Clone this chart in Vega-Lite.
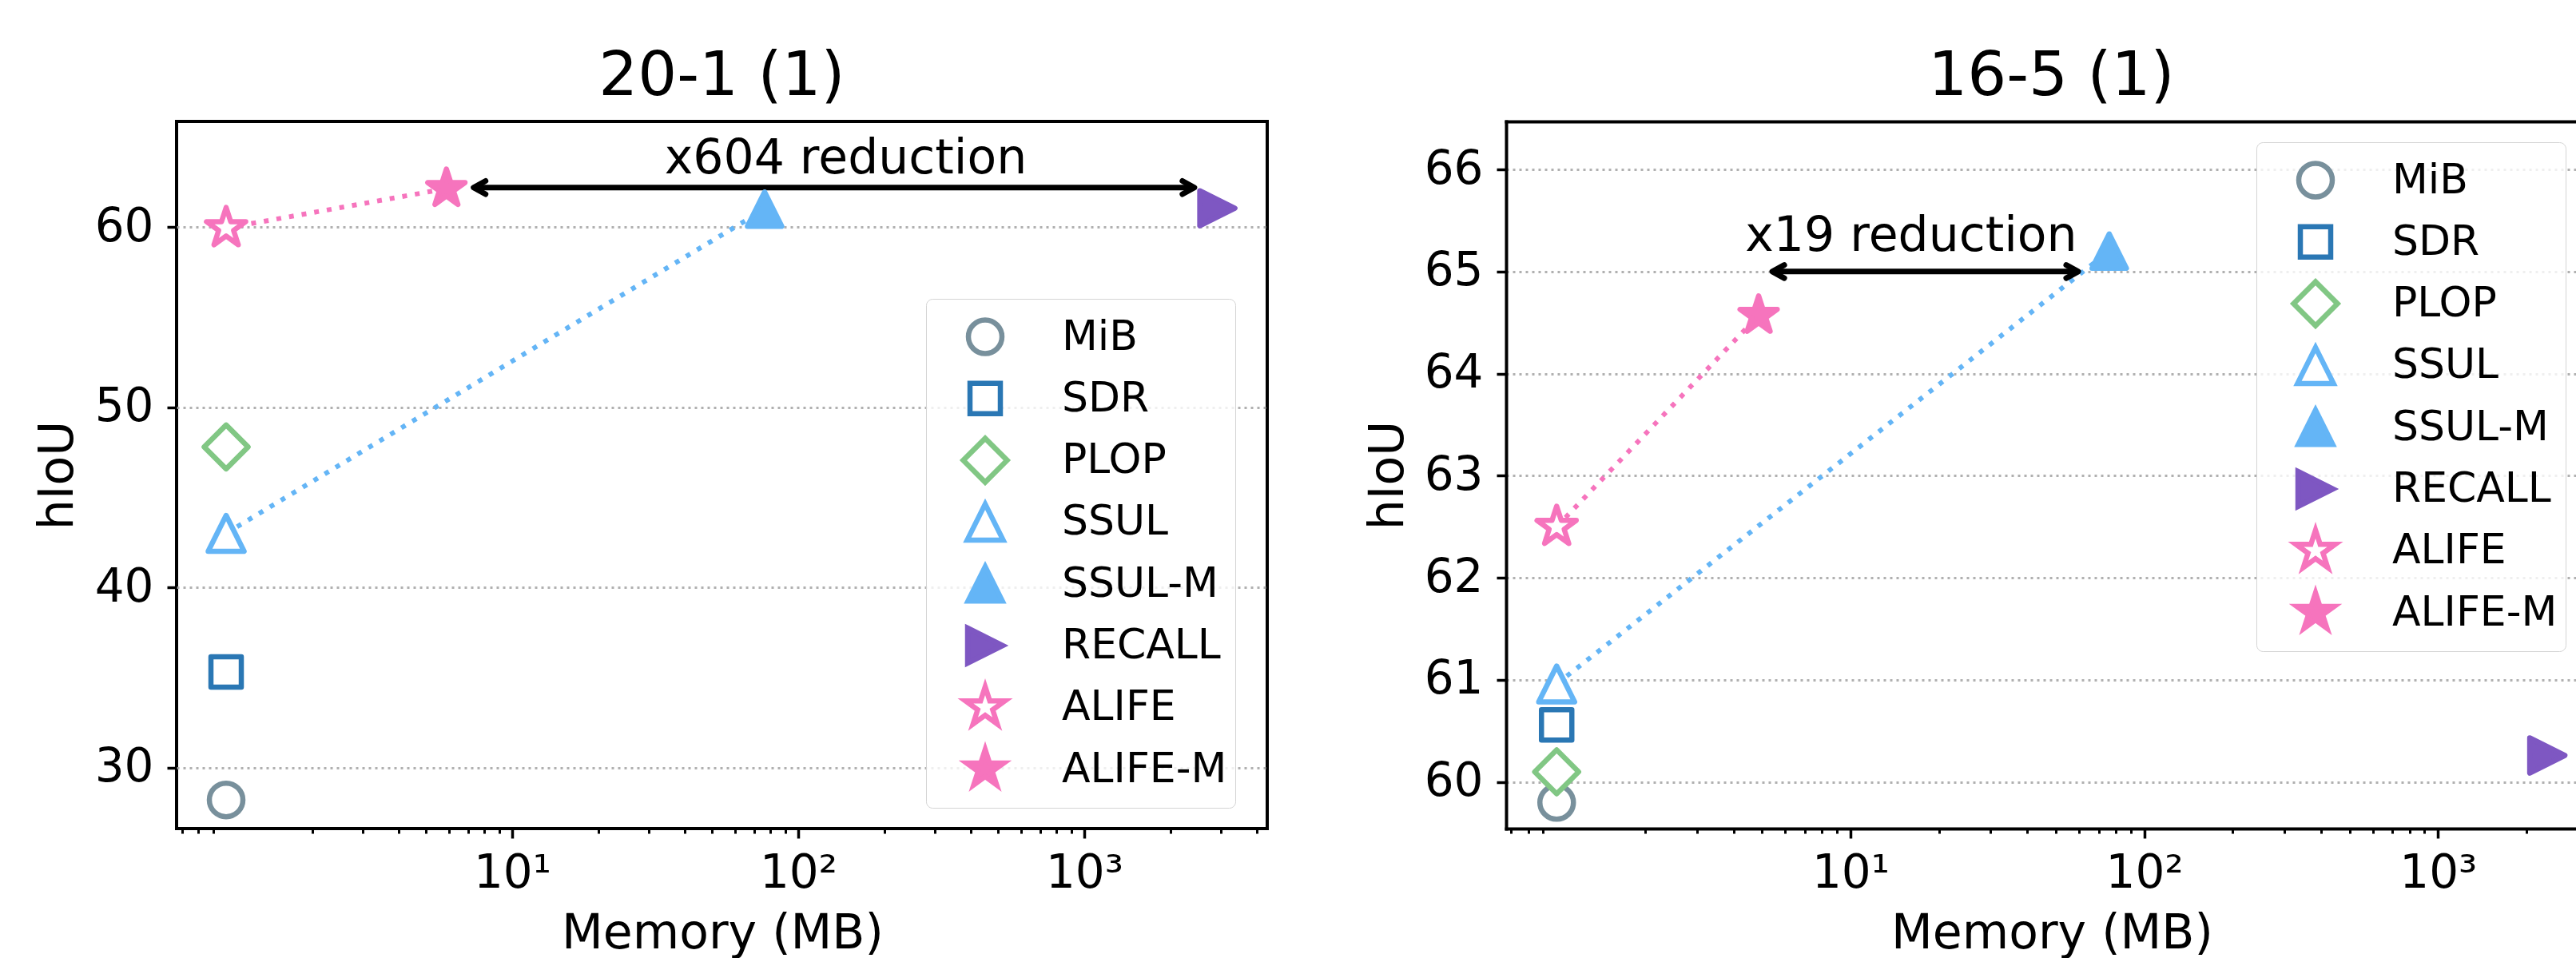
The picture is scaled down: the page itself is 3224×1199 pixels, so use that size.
{
  "$schema": "https://vega.github.io/schema/vega-lite/v6.json",
  "padding": {"left": 40, "top": 55, "right": 0, "bottom": 0},
  "background": "white",
  "config": {
    "font": "DejaVu Sans",
    "view": {"stroke": null},
    "axis": {"domainColor": "black", "domainWidth": 4, "tickColor": "black", "labelColor": "black", "titleColor": "black", "titleFontWeight": "normal", "labelFont": "DejaVu Sans", "titleFont": "DejaVu Sans", "minExtent": 0},
    "legend": {"labelLimit": 500},
    "title": {"font": "DejaVu Sans", "color": "black", "fontWeight": "normal"}
  },
  "datasets": {
    "pts1": [
      {"method": "MiB", "memory": 1.0, "hIoU": 28.2, "pair": "none"},
      {"method": "SDR", "memory": 1.0, "hIoU": 35.3, "pair": "none"},
      {"method": "PLOP", "memory": 1.0, "hIoU": 47.8, "pair": "none"},
      {"method": "SSUL", "memory": 1.0, "hIoU": 43.0, "pair": "SSUL"},
      {"method": "SSUL-M", "memory": 76.3, "hIoU": 61.0, "pair": "SSUL"},
      {"method": "RECALL", "memory": 2920, "hIoU": 61.05, "pair": "none"},
      {"method": "ALIFE", "memory": 1.0, "hIoU": 59.95, "pair": "ALIFE"},
      {"method": "ALIFE-M", "memory": 5.89, "hIoU": 62.14, "pair": "ALIFE"}
    ],
    "pts2": [
      {"method": "MiB", "memory": 1.0, "hIoU": 59.8, "pair": "none"},
      {"method": "SDR", "memory": 1.0, "hIoU": 60.56, "pair": "none"},
      {"method": "PLOP", "memory": 1.0, "hIoU": 60.1, "pair": "none"},
      {"method": "SSUL", "memory": 1.0, "hIoU": 60.96, "pair": "SSUL"},
      {"method": "SSUL-M", "memory": 76, "hIoU": 65.2, "pair": "SSUL"},
      {"method": "RECALL", "memory": 2355, "hIoU": 60.26, "pair": "none"},
      {"method": "ALIFE", "memory": 1.0, "hIoU": 62.5, "pair": "ALIFE"},
      {"method": "ALIFE-M", "memory": 4.87, "hIoU": 64.57, "pair": "ALIFE"}
    ],
    "arrow1": [{"from": 7.33, "to": 2427, "hIoU": 62.2}],
    "arrow2": [{"from": 5.42, "to": 59.6, "hIoU": 65.0}],
    "note1": [{"memory": 146.6, "hIoU": 62.99, "label": "x604 reduction"}],
    "note2": [{"memory": 16.1, "hIoU": 65.2, "label": "x19 reduction"}]
  },
  "spacing": 299,
  "bounds": "flush",
  "resolve": {
    "scale": {"x": "independent", "y": "independent", "shape": "independent", "size": "independent", "fill": "independent", "stroke": "independent"},
    "legend": {"shape": "independent", "size": "independent", "fill": "independent", "stroke": "independent"},
    "axis": {"x": "independent", "y": "independent"}
  },
  "hconcat": [
    {
      "width": 1365,
      "height": 885,
      "view": {"stroke": "black", "strokeWidth": 4},
      "title": {"text": "20-1 (1)", "fontSize": 77, "baseline": "alphabetic", "offset": -44, "frame": "group", "anchor": "middle"},
      "resolve": {"axis": {"x": "independent", "y": "independent"}},
      "layer": [
        {
          "data": {"name": "pts1"},
          "transform": [{"filter": "datum.pair === 'ALIFE'"}],
          "mark": {"type": "line", "color": "#f674bd", "strokeWidth": 6, "strokeDash": [6, 10], "strokeCap": "butt"},
          "encoding": {
            "x": {"field": "memory", "type": "quantitative", "scale": {"type": "log", "domain": [0.6711, 4362], "nice": false, "zero": false},
              "axis": {"orient": "bottom", "values": [10, 100, 1000], "labelExpr": "datum.value == 10 ? '10¹' : (datum.value == 100 ? '10²' : '10³')", "labelFontSize": 58, "labelPadding": 15, "tickSize": 12, "tickWidth": 3.5, "domain": false, "grid": false, "title": "Memory (MB)", "titleFontSize": 60, "titleX": 683, "titleY": 149, "titleBaseline": "alphabetic", "titleAlign": "center"}},
            "y": {"field": "hIoU", "type": "quantitative", "scale": {"domain": [26.61, 65.87], "nice": false, "zero": false},
              "axis": {"orient": "left", "values": [30, 40, 50, 60], "format": "d", "labelFontSize": 58, "labelPadding": 17, "tickSize": 12, "tickWidth": 3.5, "domain": false, "grid": true, "gridDash": [3, 5], "gridColor": "#b0b0b0", "gridWidth": 3, "title": "hIoU", "titleFontSize": 60, "titleX": -131, "titleBaseline": "alphabetic", "titleAngle": 270}}
          }
        },
        {
          "data": {"name": "pts1"},
          "transform": [{"filter": "datum.pair === 'SSUL'"}],
          "mark": {"type": "line", "color": "#64b5f6", "strokeWidth": 6, "strokeDash": [6, 10], "strokeCap": "butt"},
          "encoding": {
            "x": {"field": "memory", "type": "quantitative", "scale": {"type": "log", "domain": [0.6711, 4362], "nice": false, "zero": false},
              "axis": {"orient": "bottom", "values": [0.7, 0.8, 0.9, 2, 3, 4, 5, 6, 7, 8, 9, 20, 30, 40, 50, 60, 70, 80, 90, 200, 300, 400, 500, 600, 700, 800, 900, 2000, 3000, 4000], "labels": false, "ticks": true, "tickSize": 6, "tickWidth": 3, "domain": false, "grid": false, "title": null}},
            "y": {"field": "hIoU", "type": "quantitative", "scale": {"domain": [26.61, 65.87], "nice": false, "zero": false}, "axis": null}
          }
        },
        {
          "data": {"name": "arrow1"},
          "mark": {"type": "rule", "color": "black", "strokeWidth": 7},
          "encoding": {
            "x": {"field": "from", "type": "quantitative", "scale": {"type": "log", "domain": [0.6711, 4362], "nice": false, "zero": false}, "axis": null},
            "x2": {"field": "to"},
            "y": {"field": "hIoU", "type": "quantitative", "scale": {"domain": [26.61, 65.87], "nice": false, "zero": false}, "axis": null}
          }
        },
        {
          "data": {"name": "arrow1"},
          "mark": {"type": "point", "shape": "M1,-0.55L0,0L1,0.55", "filled": false, "opacity": 1, "stroke": "black", "strokeWidth": 7, "size": 900, "strokeJoin": "round", "strokeCap": "round"},
          "encoding": {
            "x": {"field": "from", "type": "quantitative", "scale": {"type": "log", "domain": [0.6711, 4362], "nice": false, "zero": false}, "axis": null},
            "y": {"field": "hIoU", "type": "quantitative", "scale": {"domain": [26.61, 65.87], "nice": false, "zero": false}, "axis": null}
          }
        },
        {
          "data": {"name": "arrow1"},
          "mark": {"type": "point", "shape": "M-1,-0.55L0,0L-1,0.55", "filled": false, "opacity": 1, "stroke": "black", "strokeWidth": 7, "size": 900, "strokeJoin": "round", "strokeCap": "round"},
          "encoding": {
            "x": {"field": "to", "type": "quantitative", "scale": {"type": "log", "domain": [0.6711, 4362], "nice": false, "zero": false}, "axis": null},
            "y": {"field": "hIoU", "type": "quantitative", "scale": {"domain": [26.61, 65.87], "nice": false, "zero": false}, "axis": null}
          }
        },
        {
          "data": {"name": "note1"},
          "mark": {"type": "text", "fontSize": 60, "baseline": "alphabetic", "align": "center", "color": "black"},
          "encoding": {
            "x": {"field": "memory", "type": "quantitative", "scale": {"type": "log", "domain": [0.6711, 4362], "nice": false, "zero": false}, "axis": null},
            "y": {"field": "hIoU", "type": "quantitative", "scale": {"domain": [26.61, 65.87], "nice": false, "zero": false}, "axis": null},
            "text": {"field": "label"}
          }
        },
        {
          "data": {"name": "pts1"},
          "mark": {"type": "point", "filled": true, "opacity": 1, "strokeWidth": 6.5, "strokeJoin": "round"},
          "encoding": {
            "x": {"field": "memory", "type": "quantitative", "scale": {"type": "log", "domain": [0.6711, 4362], "nice": false, "zero": false}, "axis": null},
            "y": {"field": "hIoU", "type": "quantitative", "scale": {"domain": [26.61, 65.87], "nice": false, "zero": false}, "axis": null},
            "shape": {"field": "method", "type": "nominal",
              "scale": {"domain": ["MiB", "SDR", "PLOP", "SSUL", "SSUL-M", "RECALL", "ALIFE", "ALIFE-M"], "range": ["circle", "square", "M-1,0L0,-1L1,0L0,1Z", "M0,-1L1,1L-1,1Z", "M0,-1L1,1L-1,1Z", "M-1,-1L1,0L-1,1Z", "M0,-1L0.2245,-0.309L0.9511,-0.309L0.3633,0.118L0.5878,0.809L0,0.382L-0.5878,0.809L-0.3633,0.118L-0.9511,-0.309L-0.2245,-0.309Z", "M0,-1L0.2245,-0.309L0.9511,-0.309L0.3633,0.118L0.5878,0.809L0,0.382L-0.5878,0.809L-0.3633,0.118L-0.9511,-0.309L-0.2245,-0.309Z"]},
              "legend": {"title": null, "orient": "none", "legendX": 938, "legendY": 222, "padding": 10, "fillColor": "rgba(255,255,255,0.8)", "strokeColor": "#d4d4d4", "cornerRadius": 8, "labelFont": "DejaVu Sans", "labelFontSize": 52, "labelColor": "black", "labelOffset": 65, "symbolOffset": 33, "clipHeight": 75, "rowPadding": 2.3, "symbolStrokeWidth": 6.5, "symbolOpacity": 1, "labelLimit": 500, "encode": {"legend": {"update": {"strokeWidth": {"value": 3}}}, "symbols": {"update": {"strokeJoin": {"value": "round"}}}}}},
            "size": {"field": "method", "type": "nominal",
              "scale": {"type": "ordinal", "domain": ["MiB", "SDR", "PLOP", "SSUL", "SSUL-M", "RECALL", "ALIFE", "ALIFE-M"], "range": [1764, 1444, 3025, 2025, 1849, 1936, 2663, 2401]},
              "legend": {"title": null, "orient": "none", "legendX": 938, "legendY": 222, "padding": 10, "fillColor": "rgba(255,255,255,0.8)", "strokeColor": "#d4d4d4", "cornerRadius": 8, "labelFont": "DejaVu Sans", "labelFontSize": 52, "labelColor": "black", "labelOffset": 65, "symbolOffset": 33, "clipHeight": 75, "rowPadding": 2.3, "symbolStrokeWidth": 6.5, "symbolOpacity": 1, "labelLimit": 500}},
            "stroke": {"field": "method", "type": "nominal",
              "scale": {"domain": ["MiB", "SDR", "PLOP", "SSUL", "SSUL-M", "RECALL", "ALIFE", "ALIFE-M"], "range": ["#78909c", "#2a77b4", "#81c784", "#64b5f6", "#64b5f6", "#7e57c2", "#f674bd", "#f674bd"]},
              "legend": {"title": null, "orient": "none", "legendX": 938, "legendY": 222, "padding": 10, "fillColor": "rgba(255,255,255,0.8)", "strokeColor": "#d4d4d4", "cornerRadius": 8, "labelFont": "DejaVu Sans", "labelFontSize": 52, "labelColor": "black", "labelOffset": 65, "symbolOffset": 33, "clipHeight": 75, "rowPadding": 2.3, "symbolStrokeWidth": 6.5, "symbolOpacity": 1, "labelLimit": 500}},
            "fill": {"field": "method", "type": "nominal",
              "scale": {"domain": ["MiB", "SDR", "PLOP", "SSUL", "SSUL-M", "RECALL", "ALIFE", "ALIFE-M"], "range": ["white", "white", "white", "white", "#64b5f6", "#7e57c2", "white", "#f674bd"]},
              "legend": {"title": null, "orient": "none", "legendX": 938, "legendY": 222, "padding": 10, "fillColor": "rgba(255,255,255,0.8)", "strokeColor": "#d4d4d4", "cornerRadius": 8, "labelFont": "DejaVu Sans", "labelFontSize": 52, "labelColor": "black", "labelOffset": 65, "symbolOffset": 33, "clipHeight": 75, "rowPadding": 2.3, "symbolStrokeWidth": 6.5, "symbolOpacity": 1, "labelLimit": 500}}
          }
        }
      ]
    },
    {
      "width": 1339,
      "height": 885,
      "title": {"text": "16-5 (1)", "fontSize": 77, "baseline": "alphabetic", "offset": -44, "frame": "group", "anchor": "middle", "dx": 13},
      "resolve": {"axis": {"x": "independent", "y": "independent"}},
      "layer": [
        {
          "data": {"name": "pts2"},
          "transform": [{"filter": "datum.pair === 'ALIFE'"}],
          "mark": {"type": "line", "color": "#f674bd", "strokeWidth": 6, "strokeDash": [6, 10], "strokeCap": "butt"},
          "encoding": {
            "x": {"field": "memory", "type": "quantitative", "scale": {"type": "log", "domain": [0.673, 2949], "nice": false, "zero": false},
              "axis": {"orient": "bottom", "values": [10, 100, 1000], "labelExpr": "datum.value == 10 ? '10¹' : (datum.value == 100 ? '10²' : '10³')", "labelFontSize": 58, "labelPadding": 15, "tickSize": 12, "tickWidth": 3.5, "domain": true, "domainCap": "square", "grid": false, "title": "Memory (MB)", "titleFontSize": 60, "titleX": 683, "titleY": 149, "titleBaseline": "alphabetic", "titleAlign": "center"}},
            "y": {"field": "hIoU", "type": "quantitative", "scale": {"domain": [59.544, 66.47], "nice": false, "zero": false},
              "axis": {"orient": "left", "values": [60, 61, 62, 63, 64, 65, 66], "format": "d", "labelFontSize": 58, "labelPadding": 17, "tickSize": 12, "tickWidth": 3.5, "domain": true, "domainCap": "square", "grid": true, "gridDash": [3, 5], "gridColor": "#b0b0b0", "gridWidth": 3, "title": "hIoU", "titleFontSize": 60, "titleX": -130, "titleBaseline": "alphabetic", "titleAngle": 270}}
          }
        },
        {
          "data": {"name": "pts2"},
          "transform": [{"filter": "datum.pair === 'SSUL'"}],
          "mark": {"type": "line", "color": "#64b5f6", "strokeWidth": 6, "strokeDash": [6, 10], "strokeCap": "butt"},
          "encoding": {
            "x": {"field": "memory", "type": "quantitative", "scale": {"type": "log", "domain": [0.673, 2949], "nice": false, "zero": false},
              "axis": {"orient": "bottom", "values": [0.7, 0.8, 0.9, 2, 3, 4, 5, 6, 7, 8, 9, 20, 30, 40, 50, 60, 70, 80, 90, 200, 300, 400, 500, 600, 700, 800, 900, 2000], "labels": false, "ticks": true, "tickSize": 6, "tickWidth": 3, "domain": false, "grid": false, "title": null}},
            "y": {"field": "hIoU", "type": "quantitative", "scale": {"domain": [59.544, 66.47], "nice": false, "zero": false}, "axis": null}
          }
        },
        {
          "data": {"name": "arrow2"},
          "mark": {"type": "rule", "color": "black", "strokeWidth": 7},
          "encoding": {
            "x": {"field": "from", "type": "quantitative", "scale": {"type": "log", "domain": [0.673, 2949], "nice": false, "zero": false},
              "axis": {"orient": "top", "labels": false, "ticks": false, "domain": true, "domainCap": "square", "grid": false, "title": null}},
            "x2": {"field": "to"},
            "y": {"field": "hIoU", "type": "quantitative", "scale": {"domain": [59.544, 66.47], "nice": false, "zero": false}, "axis": null}
          }
        },
        {
          "data": {"name": "arrow2"},
          "mark": {"type": "point", "shape": "M1,-0.55L0,0L1,0.55", "filled": false, "opacity": 1, "stroke": "black", "strokeWidth": 7, "size": 900, "strokeJoin": "round", "strokeCap": "round"},
          "encoding": {
            "x": {"field": "from", "type": "quantitative", "scale": {"type": "log", "domain": [0.673, 2949], "nice": false, "zero": false}, "axis": null},
            "y": {"field": "hIoU", "type": "quantitative", "scale": {"domain": [59.544, 66.47], "nice": false, "zero": false}, "axis": null}
          }
        },
        {
          "data": {"name": "arrow2"},
          "mark": {"type": "point", "shape": "M-1,-0.55L0,0L-1,0.55", "filled": false, "opacity": 1, "stroke": "black", "strokeWidth": 7, "size": 900, "strokeJoin": "round", "strokeCap": "round"},
          "encoding": {
            "x": {"field": "to", "type": "quantitative", "scale": {"type": "log", "domain": [0.673, 2949], "nice": false, "zero": false}, "axis": null},
            "y": {"field": "hIoU", "type": "quantitative", "scale": {"domain": [59.544, 66.47], "nice": false, "zero": false}, "axis": null}
          }
        },
        {
          "data": {"name": "note2"},
          "mark": {"type": "text", "fontSize": 60, "baseline": "alphabetic", "align": "center", "color": "black"},
          "encoding": {
            "x": {"field": "memory", "type": "quantitative", "scale": {"type": "log", "domain": [0.673, 2949], "nice": false, "zero": false}, "axis": null},
            "y": {"field": "hIoU", "type": "quantitative", "scale": {"domain": [59.544, 66.47], "nice": false, "zero": false}, "axis": null},
            "text": {"field": "label"}
          }
        },
        {
          "data": {"name": "pts2"},
          "mark": {"type": "point", "filled": true, "opacity": 1, "strokeWidth": 6.5, "strokeJoin": "round"},
          "encoding": {
            "x": {"field": "memory", "type": "quantitative", "scale": {"type": "log", "domain": [0.673, 2949], "nice": false, "zero": false}, "axis": null},
            "y": {"field": "hIoU", "type": "quantitative", "scale": {"domain": [59.544, 66.47], "nice": false, "zero": false}, "axis": null},
            "shape": {"field": "method", "type": "nominal",
              "scale": {"domain": ["MiB", "SDR", "PLOP", "SSUL", "SSUL-M", "RECALL", "ALIFE", "ALIFE-M"], "range": ["circle", "square", "M-1,0L0,-1L1,0L0,1Z", "M0,-1L1,1L-1,1Z", "M0,-1L1,1L-1,1Z", "M-1,-1L1,0L-1,1Z", "M0,-1L0.2245,-0.309L0.9511,-0.309L0.3633,0.118L0.5878,0.809L0,0.382L-0.5878,0.809L-0.3633,0.118L-0.9511,-0.309L-0.2245,-0.309Z", "M0,-1L0.2245,-0.309L0.9511,-0.309L0.3633,0.118L0.5878,0.809L0,0.382L-0.5878,0.809L-0.3633,0.118L-0.9511,-0.309L-0.2245,-0.309Z"]},
              "legend": {"title": null, "orient": "none", "legendX": 939, "legendY": 26, "padding": 10, "fillColor": "rgba(255,255,255,0.8)", "strokeColor": "#d4d4d4", "cornerRadius": 8, "labelFont": "DejaVu Sans", "labelFontSize": 52, "labelColor": "black", "labelOffset": 65, "symbolOffset": 33, "clipHeight": 75, "rowPadding": 2.3, "symbolStrokeWidth": 6.5, "symbolOpacity": 1, "labelLimit": 500, "encode": {"legend": {"update": {"strokeWidth": {"value": 3}}}, "symbols": {"update": {"strokeJoin": {"value": "round"}}}}}},
            "size": {"field": "method", "type": "nominal",
              "scale": {"type": "ordinal", "domain": ["MiB", "SDR", "PLOP", "SSUL", "SSUL-M", "RECALL", "ALIFE", "ALIFE-M"], "range": [1764, 1444, 3025, 2025, 1849, 1936, 2663, 2401]},
              "legend": {"title": null, "orient": "none", "legendX": 939, "legendY": 26, "padding": 10, "fillColor": "rgba(255,255,255,0.8)", "strokeColor": "#d4d4d4", "cornerRadius": 8, "labelFont": "DejaVu Sans", "labelFontSize": 52, "labelColor": "black", "labelOffset": 65, "symbolOffset": 33, "clipHeight": 75, "rowPadding": 2.3, "symbolStrokeWidth": 6.5, "symbolOpacity": 1, "labelLimit": 500}},
            "stroke": {"field": "method", "type": "nominal",
              "scale": {"domain": ["MiB", "SDR", "PLOP", "SSUL", "SSUL-M", "RECALL", "ALIFE", "ALIFE-M"], "range": ["#78909c", "#2a77b4", "#81c784", "#64b5f6", "#64b5f6", "#7e57c2", "#f674bd", "#f674bd"]},
              "legend": {"title": null, "orient": "none", "legendX": 939, "legendY": 26, "padding": 10, "fillColor": "rgba(255,255,255,0.8)", "strokeColor": "#d4d4d4", "cornerRadius": 8, "labelFont": "DejaVu Sans", "labelFontSize": 52, "labelColor": "black", "labelOffset": 65, "symbolOffset": 33, "clipHeight": 75, "rowPadding": 2.3, "symbolStrokeWidth": 6.5, "symbolOpacity": 1, "labelLimit": 500}},
            "fill": {"field": "method", "type": "nominal",
              "scale": {"domain": ["MiB", "SDR", "PLOP", "SSUL", "SSUL-M", "RECALL", "ALIFE", "ALIFE-M"], "range": ["white", "white", "white", "white", "#64b5f6", "#7e57c2", "white", "#f674bd"]},
              "legend": {"title": null, "orient": "none", "legendX": 939, "legendY": 26, "padding": 10, "fillColor": "rgba(255,255,255,0.8)", "strokeColor": "#d4d4d4", "cornerRadius": 8, "labelFont": "DejaVu Sans", "labelFontSize": 52, "labelColor": "black", "labelOffset": 65, "symbolOffset": 33, "clipHeight": 75, "rowPadding": 2.3, "symbolStrokeWidth": 6.5, "symbolOpacity": 1, "labelLimit": 500}}
          }
        }
      ]
    }
  ]
}
